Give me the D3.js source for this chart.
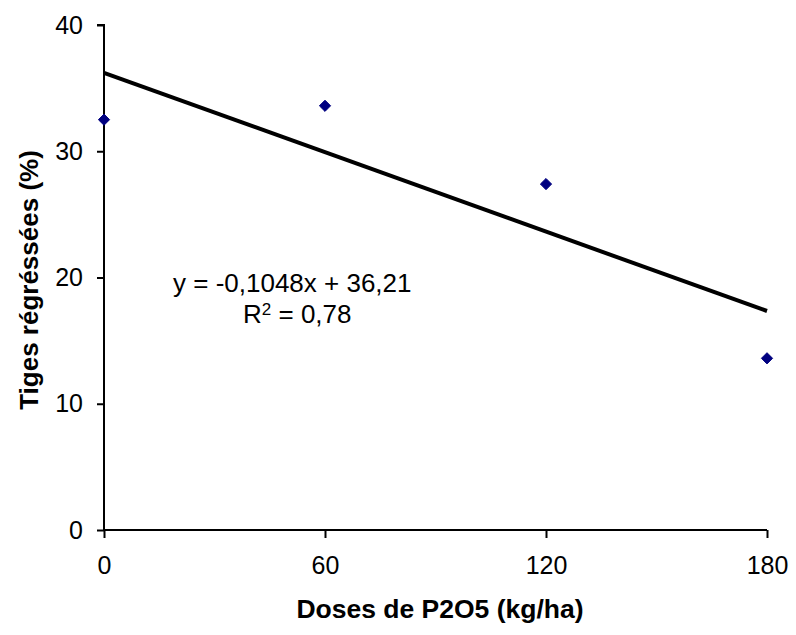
<!DOCTYPE html>
<html>
<head>
<meta charset="utf-8">
<script src="https://cdn.jsdelivr.net/npm/d3@7"></script>
<style>
  body { margin: 0; background: #fff; }
  text { font-family: Arial, "Liberation Sans", sans-serif; }
</style>
</head>
<body>
<div class="chart"></div>
<script>
// data
const doses = [0, 60, 120, 180];
const tiges = [32.5, 33.6, 27.4, 13.6];
const xTicks = [0, 60, 120, 180];
const yTicks = [0, 10, 20, 30, 40];
const slope = -0.1048;
const intercept = 36.21;
const eqLines = ['y = -0,1048x + 36,21', 'R2 = 0,78'];

const width = 796, height = 635;

const svg = d3.select('.chart').append('svg')
  .attr('width', width)
  .attr('height', height);

const x = d3.scaleLinear().domain([0, 180]).range([104, 767]);
const y = d3.scaleLinear().domain([0, 40]).range([530, 25]);

// y axis
const yAxis = svg.append('g')
  .attr('transform', `translate(${x(0)},0)`)
  .call(d3.axisLeft(y).tickValues(yTicks).tickSize(7).tickPadding(14).tickFormat(d3.format('d')));
yAxis.select('.domain').attr('stroke-width', 2).attr('d', `M-7,${y(40)}H0V${y(0)}`);
yAxis.selectAll('.tick line').attr('stroke-width', 2);
yAxis.selectAll('.tick text').attr('font-size', 25).attr('fill', '#000');

// x axis
const xAxis = svg.append('g')
  .attr('transform', `translate(0,${y(0)})`)
  .call(d3.axisBottom(x).tickValues(xTicks).tickSize(8).tickPadding(18).tickFormat(d3.format('d')));
xAxis.select('.domain').attr('stroke-width', 2).attr('d', `M${x(0)},0H${x(180)}`);
xAxis.selectAll('.tick line').attr('stroke-width', 2);
xAxis.selectAll('.tick text').attr('font-size', 25).attr('fill', '#000');

// trend line
svg.append('line')
  .attr('x1', x(0)).attr('y1', y(intercept))
  .attr('x2', x(180)).attr('y2', y(intercept + slope * 180))
  .attr('stroke', '#000')
  .attr('stroke-width', 4);

// points
svg.selectAll('.pt')
  .data(doses.map((d, i) => ({ d, v: tiges[i] })))
  .enter().append('path')
  .attr('class', 'pt')
  .attr('d', d3.symbol(d3.symbolDiamond2, 80))
  .attr('transform', p => `translate(${x(p.d)},${y(p.v)})`)
  .attr('fill', '#000080')
  .attr('stroke', '#000080')
  .attr('stroke-width', 1)
  .attr('stroke-linejoin', 'round');

// equation
svg.append('text')
  .attr('x', 173).attr('y', 292)
  .attr('font-size', 26)
  .text(eqLines[0]);
const r2 = svg.append('text')
  .attr('x', 243).attr('y', 323)
  .attr('font-size', 26);
r2.append('tspan').text('R');
r2.append('tspan').attr('font-size', 17).attr('dy', -8).text('2');
r2.append('tspan').attr('dy', 8).text(' = 0,78');

// axis titles
svg.append('text')
  .attr('x', 440).attr('y', 618)
  .attr('text-anchor', 'middle')
  .attr('font-size', 26.5)
  .attr('font-weight', 'bold')
  .text('Doses de P2O5 (kg/ha)');

svg.append('text')
  .attr('transform', 'translate(38,280) rotate(-90)')
  .attr('text-anchor', 'middle')
  .attr('font-size', 26)
  .attr('font-weight', 'bold')
  .text('Tiges régréssées (%)');
</script>
</body>
</html>
